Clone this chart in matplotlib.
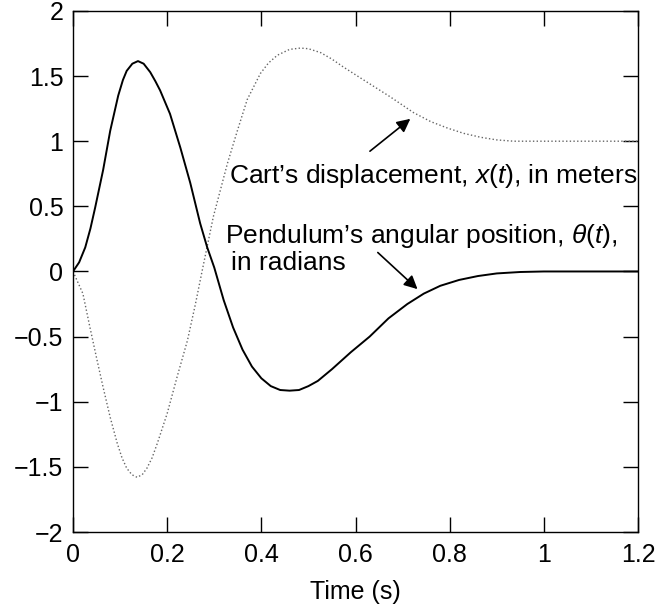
import matplotlib
matplotlib.use('Agg')
import matplotlib.pyplot as plt

plt.rcParams['font.family'] = ['Liberation Sans', 'DejaVu Sans']
plt.rcParams['mathtext.fontset'] = 'custom'
plt.rcParams['mathtext.rm'] = 'Liberation Sans'
plt.rcParams['mathtext.it'] = 'Liberation Sans:italic'

# pendulum angle theta(t)
t_theta = [0, 0.013, 0.026, 0.037, 0.047, 0.064, 0.079, 0.096, 0.106, 0.114, 0.126, 0.138,
           0.150, 0.164, 0.175, 0.185, 0.206, 0.228, 0.249, 0.270, 0.285, 0.30, 0.32,
           0.34, 0.36, 0.38, 0.40, 0.42, 0.44, 0.46, 0.48, 0.50, 0.52, 0.55, 0.59,
           0.63, 0.67, 0.71, 0.745, 0.78, 0.82, 0.86, 0.90, 0.95, 1.0, 1.2]
theta = [0, 0.07, 0.185, 0.33, 0.49, 0.78, 1.08, 1.35, 1.47, 1.54, 1.595, 1.615,
         1.595, 1.53, 1.46, 1.39, 1.21, 0.95, 0.68, 0.37, 0.185, 0.03, -0.22,
         -0.43, -0.60, -0.73, -0.82, -0.88, -0.91, -0.915, -0.91, -0.88, -0.84, -0.75, -0.62,
         -0.50, -0.36, -0.25, -0.17, -0.11, -0.065, -0.035, -0.015, -0.004, 0, 0]

# cart displacement x(t)
t_cart = [0, 0.021, 0.036, 0.051, 0.064, 0.079, 0.094, 0.104, 0.114, 0.125, 0.136, 0.147,
          0.157, 0.168, 0.179, 0.200, 0.221, 0.243, 0.260, 0.274, 0.298, 0.328, 0.349,
          0.370, 0.398, 0.415, 0.434, 0.46, 0.483, 0.50, 0.526, 0.55, 0.574, 0.626, 0.674,
          0.723, 0.76, 0.796, 0.83, 0.866, 0.90, 0.936, 1.0, 1.2]
x_cart = [0, -0.17, -0.43, -0.68, -0.89, -1.12, -1.32, -1.43, -1.51, -1.56, -1.58, -1.56,
          -1.51, -1.43, -1.32, -1.09, -0.81, -0.53, -0.25, 0.0, 0.42, 0.83, 1.08,
          1.32, 1.52, 1.60, 1.66, 1.705, 1.715, 1.71, 1.68, 1.63, 1.57, 1.45, 1.34,
          1.22, 1.15, 1.10, 1.06, 1.03, 1.01, 1.0, 1.0, 1.0]

xticks = [0, 0.2, 0.4, 0.6, 0.8, 1, 1.2]
xtick_labels = ['0', '0.2', '0.4', '0.6', '0.8', '1', '1.2']
yticks = [-2, -1.5, -1, -0.5, 0, 0.5, 1, 1.5, 2]
ytick_labels = ['\u22122', '\u22121.5', '\u22121', '\u22120.5', '0', '0.5', '1', '1.5', '2']

fig = plt.figure(figsize=(6.56, 6.08), dpi=100)
ax = fig.add_axes([0.1113, 0.125, 0.8613, 0.857])

ax.plot(t_cart, x_cart, color='0.4', linestyle=':', linewidth=1.0)
ax.plot(t_theta, theta, color='black', linestyle='-', linewidth=1.4)

ax.set_xlim(0, 1.2)
ax.set_ylim(-2, 2)
ax.set_xticks(xticks)
ax.set_xticklabels(xtick_labels)
ax.set_yticks(yticks)
ax.set_yticklabels(ytick_labels)
ax.tick_params(direction='in', length=11, width=1, top=True, right=True,
               labelsize=18)
ax.tick_params(axis='x', pad=8)
ax.tick_params(axis='y', pad=7)
for s in ax.spines.values():
    s.set_linewidth(1)
ax.set_xlabel('Time (s)', fontsize=18, labelpad=9)

# annotations
ax.annotate('', xy=(0.721, 1.185), xytext=(0.626, 0.91),
            arrowprops=dict(arrowstyle='-|>', color='black', lw=1.2, mutation_scale=20))
ax.text(0.332, 0.677, 'Cart\u2019s displacement, $x$($t$), in meters',
        fontsize=19, ha='left', va='baseline')
ax.annotate('', xy=(0.736, -0.15), xytext=(0.643, 0.16),
            arrowprops=dict(arrowstyle='-|>', color='black', lw=1.2, mutation_scale=20))
ax.text(0.323, 0.215, 'Pendulum\u2019s angular position, $\\theta$($t$),',
        fontsize=19, ha='left', va='baseline')
ax.text(0.336, 0.008, 'in radians', fontsize=19, ha='left', va='baseline')

plt.savefig('out.png', dpi=100)
